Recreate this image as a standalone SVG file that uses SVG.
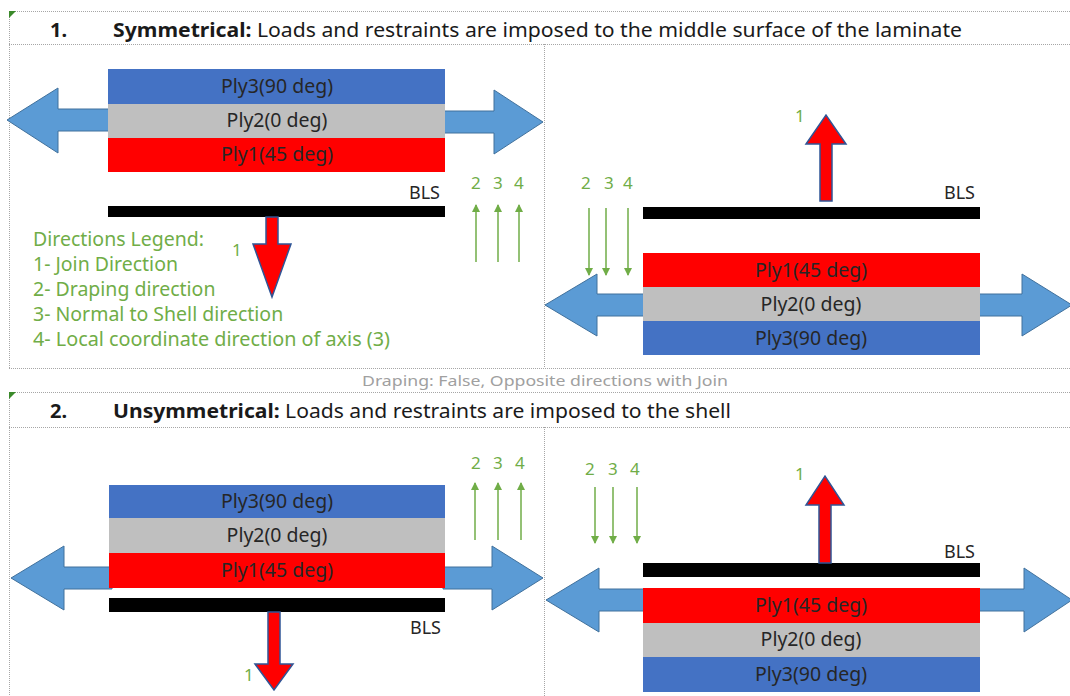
<svg xmlns="http://www.w3.org/2000/svg" width="1070" height="696" viewBox="0 0 1070 696">
  <style>
    .grid { stroke: #a6a6a6; stroke-width: 1; stroke-dasharray: 1 1; fill: none; }
    .title { font-family: "Noto Sans", "Open Sans", sans-serif; font-size: 20px; fill: #1a1a1a; }
    .bold { font-weight: bold; }
    .ply { font-family: "Noto Sans", "Open Sans", sans-serif; font-size: 19.5px; fill: #262626; text-anchor: middle; }
    .bls { font-family: "Noto Sans", "Open Sans", sans-serif; font-size: 18px; fill: #262626; text-anchor: end; }
    .lbl { font-family: "Noto Sans", "Open Sans", sans-serif; font-size: 17px; fill: #70ad47; }
    .legend { font-family: "Noto Sans", "Open Sans", sans-serif; font-size: 19.5px; fill: #70ad47; }
    .note { font-family: "Noto Sans", "Open Sans", sans-serif; font-size: 15px; fill: #a0a0a0; text-anchor: middle; }
    .p3 { fill: #4472c4; }
    .p2 { fill: #bfbfbf; }
    .p1 { fill: #ff0000; }
    .bar { fill: #000000; }
    .load { fill: #5b9bd5; stroke: #41719c; stroke-width: 1; }
    .join { fill: #ff0000; stroke: #2f5597; stroke-width: 1.5; }
    .dir { stroke: #70ad47; stroke-width: 1.5; fill: none; marker-end: url(#tip); }
    .flag { fill: #3a8a2a; }
  </style>
  <defs>
    <marker id="tip" markerWidth="10" markerHeight="10" refX="7" refY="4" orient="auto" markerUnits="userSpaceOnUse">
      <path d="M0,0 L8,4 L0,8 Z" fill="#70ad47"/>
    </marker>
  </defs>

  <rect width="1070" height="696" fill="#ffffff"/>

  <!-- table frame -->
  <g id="frame">
    <line class="grid" x1="9" y1="11.5" x2="1070" y2="11.5"/>
    <line class="grid" x1="9" y1="44.5" x2="1070" y2="44.5"/>
    <line class="grid" x1="9" y1="368.5" x2="1070" y2="368.5"/>
    <line class="grid" x1="9.5" y1="11" x2="9.5" y2="368"/>
    <line class="grid" x1="544.5" y1="44" x2="544.5" y2="368"/>
    <line class="grid" x1="9" y1="392.5" x2="1070" y2="392.5"/>
    <line class="grid" x1="9" y1="427.5" x2="1070" y2="427.5"/>
    <line class="grid" x1="9.5" y1="392" x2="9.5" y2="696"/>
    <line class="grid" x1="544.5" y1="427" x2="544.5" y2="696"/>
    <polygon class="flag" points="9,11 16,11 9,18"/>
    <polygon class="flag" points="9,392 16,392 9,399"/>
  </g>

  <!-- headings -->
  <g id="title-1">
    <text class="title bold" x="50" y="37" font-size="21">1.</text>
    <text class="title" x="113" y="37" textLength="849" lengthAdjust="spacingAndGlyphs"><tspan class="bold">Symmetrical:</tspan> Loads and restraints are imposed to the middle surface of the laminate</text>
  </g>
  <g id="note">
    <text class="note" x="545" y="386" textLength="366" lengthAdjust="spacingAndGlyphs">Draping: False, Opposite directions with Join</text>
  </g>
  <g id="title-2">
    <text class="title bold" x="50" y="418" font-size="21">2.</text>
    <text class="title" x="113" y="418" textLength="618" lengthAdjust="spacingAndGlyphs"><tspan class="bold">Unsymmetrical:</tspan> Loads and restraints are imposed to the shell</text>
  </g>

  <!-- case 1, left -->
  <g id="case1-left">
    <polygon class="load" points="7,120 58,88 58,109 110,109 110,131 58,131 58,153"/>
    <polygon class="load" points="543,122 494,90 494,111 443,111 443,133 494,133 494,154"/>
    <rect class="p3" x="108" y="69" width="337" height="35"/>
    <rect class="p2" x="108" y="104" width="337" height="34"/>
    <rect class="p1" x="108" y="138" width="337" height="34"/>
    <text class="ply" x="277" y="93">Ply3(90 deg)</text>
    <text class="ply" x="277" y="127">Ply2(0 deg)</text>
    <text class="ply" x="277" y="161">Ply1(45 deg)</text>
    <text class="bls" x="440" y="199">BLS</text>
    <rect class="bar" x="108" y="206" width="337" height="11"/>
    <polygon class="join" points="266,217 278,217 278,244 291,244 272,297 253,244 266,244"/>
    <text class="lbl" x="232" y="256">1</text>
    <text class="lbl" x="471" y="189">2</text>
    <text class="lbl" x="493" y="189">3</text>
    <text class="lbl" x="514" y="189">4</text>
  </g>

  <g id="legend">
    <text class="legend" x="33" y="246">Directions Legend:</text>
    <text class="legend" x="33" y="271">1- Join Direction</text>
    <text class="legend" x="33" y="296">2- Draping direction</text>
    <text class="legend" x="33" y="321">3- Normal to Shell direction</text>
    <text class="legend" x="33" y="346" textLength="357" lengthAdjust="spacingAndGlyphs">4- Local coordinate direction of axis (3)</text>
  </g>

  <!-- case 1, right -->
  <g id="case1-right">
    <polygon class="load" points="545,305 597,274 597,294 645,294 645,316 597,316 597,336"/>
    <polygon class="load" points="1072,305 1022,274 1022,294 978,294 978,316 1022,316 1022,336"/>
    <rect class="p1" x="643" y="253" width="337" height="34"/>
    <rect class="p2" x="643" y="287" width="337" height="34"/>
    <rect class="p3" x="643" y="321" width="337" height="34"/>
    <text class="ply" x="811" y="277">Ply1(45 deg)</text>
    <text class="ply" x="811" y="311">Ply2(0 deg)</text>
    <text class="ply" x="811" y="345">Ply3(90 deg)</text>
    <text class="bls" x="975" y="199">BLS</text>
    <rect class="bar" x="643" y="207" width="337" height="12"/>
    <polygon class="join" points="820,201 832,201 832,144 846,144 826,115 806,144 820,144"/>
    <text class="lbl" x="795" y="122">1</text>
    <text class="lbl" x="581" y="189">2</text>
    <text class="lbl" x="604" y="189">3</text>
    <text class="lbl" x="623" y="189">4</text>
  </g>

  <!-- case 2, left -->
  <g id="case2-left">
    <polygon class="load" points="11,578 64,546 64,567 112,567 112,589 64,589 64,610"/>
    <polygon class="load" points="543,578 492,546 492,567 443,567 443,589 492,589 492,610"/>
    <rect class="p3" x="109" y="485" width="336" height="33"/>
    <rect class="p2" x="109" y="518" width="336" height="35"/>
    <rect class="p1" x="109" y="553" width="336" height="35"/>
    <text class="ply" x="277" y="508">Ply3(90 deg)</text>
    <text class="ply" x="277" y="542">Ply2(0 deg)</text>
    <text class="ply" x="277" y="577">Ply1(45 deg)</text>
    <rect class="bar" x="109" y="598" width="336" height="14"/>
    <text class="bls" x="441" y="634">BLS</text>
    <polygon class="join" points="268,612 280,612 280,664 293,664 274,690 255,664 268,664"/>
    <text class="lbl" x="244" y="681">1</text>
    <text class="lbl" x="471" y="469">2</text>
    <text class="lbl" x="493" y="469">3</text>
    <text class="lbl" x="515" y="469">4</text>
  </g>

  <!-- case 2, right -->
  <g id="case2-right">
    <polygon class="load" points="546,600 599,568 599,589 647,589 647,611 599,611 599,632"/>
    <polygon class="load" points="1072,600 1024,568 1024,589 978,589 978,611 1024,611 1024,632"/>
    <rect class="p1" x="643" y="588" width="337" height="35"/>
    <rect class="p2" x="643" y="623" width="337" height="34"/>
    <rect class="p3" x="643" y="657" width="337" height="35"/>
    <text class="ply" x="811" y="612">Ply1(45 deg)</text>
    <text class="ply" x="811" y="646">Ply2(0 deg)</text>
    <text class="ply" x="811" y="681">Ply3(90 deg)</text>
    <text class="bls" x="975" y="558">BLS</text>
    <rect class="bar" x="643" y="563" width="337" height="14"/>
    <polygon class="join" points="819,563 831,563 831,505 844,505 825,476 806,505 819,505"/>
    <text class="lbl" x="795" y="480">1</text>
    <text class="lbl" x="585" y="475">2</text>
    <text class="lbl" x="608" y="475">3</text>
    <text class="lbl" x="630" y="475">4</text>
  </g>

  <!-- direction arrows 2, 3, 4 -->
  <g id="connectors">
    <line class="dir" x1="476" y1="262" x2="476" y2="205"/>
    <line class="dir" x1="498" y1="262" x2="498" y2="205"/>
    <line class="dir" x1="519" y1="262" x2="519" y2="205"/>
    <line class="dir" x1="589" y1="208" x2="589" y2="275"/>
    <line class="dir" x1="606" y1="208" x2="606" y2="275"/>
    <line class="dir" x1="628" y1="208" x2="628" y2="275"/>
    <line class="dir" x1="475" y1="540" x2="475" y2="483"/>
    <line class="dir" x1="498" y1="540" x2="498" y2="483"/>
    <line class="dir" x1="521" y1="540" x2="521" y2="483"/>
    <line class="dir" x1="595" y1="487" x2="595" y2="543"/>
    <line class="dir" x1="613" y1="487" x2="613" y2="543"/>
    <line class="dir" x1="637" y1="487" x2="637" y2="543"/>
  </g>
</svg>
